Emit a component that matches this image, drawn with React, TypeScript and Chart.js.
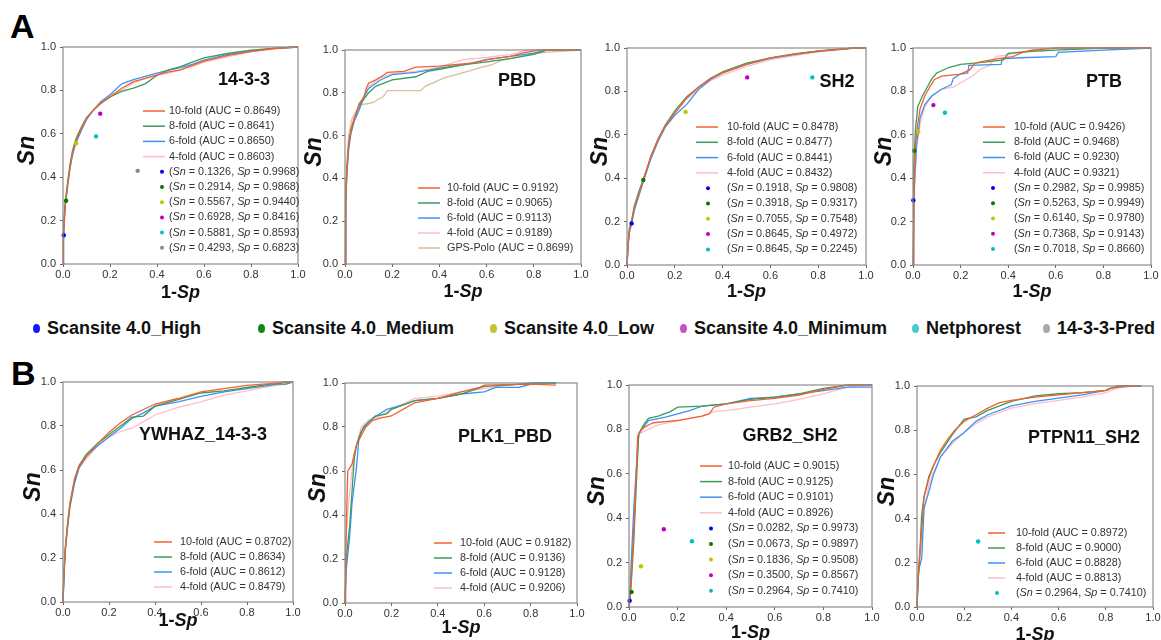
import React, { useEffect, useRef } from "react";
import { Chart, registerables } from "chart.js";
Chart.register(...registerables);

// ================= DATA =================
const FOLDS = ["10-fold", "8-fold", "6-fold", "4-fold"];
const TOOLS = ["Scansite 4.0_High", "Scansite 4.0_Medium", "Scansite 4.0_Low", "Scansite 4.0_Minimum", "Netphorest", "14-3-3-Pred"];
const PANEL_NAMES = ["14-3-3", "PBD", "SH2", "PTB", "YWHAZ_14-3-3", "PLK1_PBD", "GRB2_SH2", "PTPN11_SH2"];

// ---- A: 14-3-3 ----
const A1_AUC = [0.8649, 0.8641, 0.865, 0.8603];
const A1_10 = [[0,0],[0.002,0.12],[0.005,0.2],[0.01,0.28],[0.02,0.37],[0.03,0.45],[0.04,0.51],[0.05,0.55],[0.06,0.58],[0.08,0.63],[0.1,0.67],[0.13,0.71],[0.16,0.74],[0.2,0.77],[0.25,0.81],[0.3,0.84],[0.35,0.855],[0.4,0.872],[0.45,0.885],[0.5,0.895],[0.55,0.915],[0.6,0.935],[0.7,0.96],[0.8,0.98],[0.9,0.993],[1,1]];
const A1_8 = [[0,0],[0.002,0.14],[0.005,0.22],[0.01,0.29],[0.02,0.38],[0.03,0.46],[0.04,0.52],[0.05,0.56],[0.06,0.59],[0.08,0.635],[0.1,0.675],[0.13,0.71],[0.16,0.74],[0.2,0.77],[0.25,0.795],[0.3,0.81],[0.35,0.83],[0.4,0.87],[0.45,0.895],[0.5,0.91],[0.55,0.93],[0.6,0.95],[0.7,0.97],[0.8,0.985],[0.9,0.995],[1,1]];
const A1_6 = [[0,0],[0.002,0.1],[0.005,0.18],[0.01,0.27],[0.02,0.36],[0.03,0.44],[0.04,0.5],[0.05,0.54],[0.06,0.57],[0.08,0.62],[0.1,0.665],[0.13,0.71],[0.16,0.745],[0.2,0.78],[0.25,0.83],[0.3,0.85],[0.35,0.865],[0.4,0.88],[0.45,0.893],[0.5,0.905],[0.55,0.92],[0.6,0.94],[0.7,0.965],[0.8,0.98],[0.9,0.994],[1,1]];
const A1_4 = [[0,0],[0.001,0.17],[0.005,0.21],[0.01,0.28],[0.02,0.37],[0.03,0.45],[0.04,0.5],[0.05,0.55],[0.06,0.58],[0.08,0.63],[0.1,0.67],[0.13,0.71],[0.16,0.75],[0.2,0.78],[0.25,0.8],[0.3,0.835],[0.35,0.855],[0.4,0.868],[0.45,0.88],[0.5,0.895],[0.55,0.91],[0.6,0.93],[0.7,0.955],[0.8,0.978],[0.9,0.992],[1,1]];
const A1_SN = [0.1326, 0.2914, 0.5567, 0.6928, 0.5881, 0.4293];
const A1_SP = [0.9968, 0.9868, 0.944, 0.8416, 0.8593, 0.6823];
const A1_TOOL = [0, 1, 2, 3, 4, 5];

// ---- A: PBD ----
const A2_AUC = [0.9192, 0.9065, 0.9113, 0.9189];
const A2_10 = [[0,0],[0.003,0.3],[0.008,0.45],[0.015,0.56],[0.025,0.63],[0.04,0.68],[0.06,0.75],[0.08,0.78],[0.09,0.82],[0.1,0.845],[0.13,0.86],[0.16,0.88],[0.18,0.895],[0.25,0.9],[0.3,0.92],[0.4,0.925],[0.45,0.93],[0.55,0.94],[0.6,0.955],[0.7,0.97],[0.75,0.985],[0.8,0.995],[0.82,1],[1,1]];
const A2_8 = [[0,0],[0.003,0.28],[0.008,0.44],[0.015,0.55],[0.025,0.62],[0.04,0.68],[0.06,0.74],[0.08,0.77],[0.1,0.8],[0.13,0.83],[0.2,0.86],[0.3,0.875],[0.35,0.9],[0.4,0.91],[0.5,0.93],[0.6,0.945],[0.7,0.96],[0.8,0.98],[0.86,1],[1,1]];
const A2_6 = [[0,0],[0.003,0.3],[0.008,0.42],[0.015,0.53],[0.025,0.61],[0.04,0.67],[0.06,0.72],[0.08,0.78],[0.1,0.82],[0.15,0.86],[0.2,0.885],[0.3,0.895],[0.4,0.915],[0.5,0.93],[0.6,0.955],[0.7,0.97],[0.8,0.985],[0.85,1],[1,1]];
const A2_4 = [[0,0],[0.003,0.32],[0.008,0.46],[0.015,0.57],[0.025,0.63],[0.04,0.69],[0.06,0.74],[0.1,0.83],[0.15,0.87],[0.2,0.89],[0.3,0.9],[0.4,0.92],[0.5,0.955],[0.6,0.965],[0.7,0.98],[0.78,1],[1,1]];
const A2_GPS = [[0,0],[0.005,0.4],[0.015,0.6],[0.03,0.68],[0.05,0.72],[0.07,0.745],[0.1,0.75],[0.12,0.755],[0.14,0.77],[0.16,0.78],[0.18,0.81],[0.32,0.81],[0.34,0.83],[0.38,0.85],[0.42,0.87],[0.47,0.885],[0.52,0.9],[0.58,0.92],[0.62,0.93],[0.66,0.95],[0.72,0.965],[0.78,0.98],[0.86,0.99],[1,1]];
const A2_GPS_AUC = 0.8699;

// ---- A: SH2 ----
const A3_AUC = [0.8478, 0.8477, 0.8441, 0.8432];
const A3_10 = [[0,0],[0.005,0.1],[0.01,0.16],[0.02,0.2],[0.03,0.26],[0.05,0.33],[0.07,0.4],[0.1,0.5],[0.13,0.58],[0.16,0.64],[0.2,0.7],[0.25,0.77],[0.3,0.82],[0.35,0.86],[0.4,0.885],[0.5,0.925],[0.6,0.955],[0.7,0.972],[0.8,0.985],[0.9,0.995],[0.95,1],[1,1]];
const A3_8 = [[0,0],[0.005,0.11],[0.01,0.17],[0.02,0.21],[0.03,0.27],[0.05,0.34],[0.07,0.4],[0.1,0.5],[0.13,0.58],[0.16,0.645],[0.2,0.71],[0.25,0.775],[0.3,0.82],[0.35,0.86],[0.4,0.89],[0.5,0.93],[0.6,0.955],[0.7,0.973],[0.8,0.987],[0.9,0.996],[0.95,1],[1,1]];
const A3_6 = [[0,0],[0.005,0.09],[0.01,0.15],[0.02,0.19],[0.03,0.25],[0.05,0.32],[0.07,0.39],[0.1,0.49],[0.13,0.57],[0.16,0.635],[0.2,0.69],[0.25,0.74],[0.3,0.81],[0.35,0.855],[0.4,0.885],[0.5,0.925],[0.6,0.952],[0.7,0.97],[0.8,0.985],[0.9,0.995],[0.95,1],[1,1]];
const A3_4 = [[0,0],[0.005,0.1],[0.01,0.15],[0.02,0.2],[0.03,0.25],[0.05,0.33],[0.07,0.39],[0.1,0.5],[0.13,0.575],[0.16,0.64],[0.2,0.7],[0.25,0.765],[0.3,0.81],[0.35,0.85],[0.4,0.875],[0.5,0.915],[0.6,0.945],[0.7,0.965],[0.8,0.982],[0.9,0.993],[0.95,1],[1,1]];
const A3_SN = [0.1918, 0.3918, 0.7055, 0.8645, 0.8645];
const A3_SP = [0.9808, 0.9317, 0.7548, 0.4972, 0.2245];
const A3_TOOL = [0, 1, 2, 3, 4];

// ---- A: PTB ----
const A4_AUC = [0.9426, 0.9468, 0.923, 0.9321];
const A4_10 = [[0,0],[0.003,0.3],[0.01,0.55],[0.02,0.65],[0.03,0.72],[0.05,0.78],[0.07,0.82],[0.09,0.855],[0.12,0.87],[0.2,0.88],[0.24,0.9],[0.26,0.93],[0.3,0.94],[0.35,0.95],[0.42,0.96],[0.46,0.98],[0.5,0.99],[0.6,1],[1,1]];
const A4_8 = [[0,0],[0.003,0.45],[0.01,0.62],[0.02,0.73],[0.04,0.78],[0.06,0.82],[0.08,0.86],[0.1,0.885],[0.15,0.91],[0.2,0.925],[0.26,0.93],[0.3,0.935],[0.38,0.945],[0.4,0.975],[0.5,0.985],[0.6,0.99],[0.8,1],[1,1]];
const A4_6 = [[0,0],[0.005,0.35],[0.015,0.55],[0.03,0.68],[0.05,0.74],[0.08,0.78],[0.12,0.81],[0.16,0.83],[0.17,0.86],[0.2,0.88],[0.23,0.885],[0.235,0.92],[0.37,0.925],[0.375,0.95],[0.45,0.955],[0.6,0.96],[0.61,0.98],[0.8,0.99],[1,1]];
const A4_4 = [[0,0],[0.005,0.3],[0.015,0.55],[0.03,0.65],[0.05,0.73],[0.08,0.78],[0.12,0.81],[0.17,0.82],[0.2,0.84],[0.25,0.87],[0.28,0.9],[0.32,0.92],[0.35,0.96],[0.4,0.97],[0.5,0.99],[0.6,1],[1,1]];
const A4_SN = [0.2982, 0.5263, 0.614, 0.7368, 0.7018];
const A4_SP = [0.9985, 0.9949, 0.978, 0.9143, 0.866];
const A4_TOOL = [0, 1, 2, 3, 4];

// ---- B: YWHAZ_14-3-3 ----
const B1_AUC = [0.8702, 0.8634, 0.8612, 0.8479];
const B1_10 = [[0,0],[0.005,0.15],[0.01,0.25],[0.02,0.36],[0.03,0.45],[0.05,0.56],[0.07,0.62],[0.1,0.66],[0.15,0.72],[0.2,0.77],[0.25,0.815],[0.3,0.85],[0.35,0.875],[0.4,0.9],[0.5,0.925],[0.6,0.955],[0.7,0.97],[0.8,0.985],[0.9,0.993],[0.97,1],[1,1]];
const B1_8 = [[0,0],[0.005,0.14],[0.01,0.24],[0.02,0.35],[0.03,0.44],[0.05,0.55],[0.07,0.62],[0.1,0.67],[0.15,0.72],[0.2,0.76],[0.25,0.8],[0.3,0.84],[0.35,0.845],[0.4,0.89],[0.5,0.92],[0.6,0.95],[0.7,0.96],[0.8,0.975],[0.9,0.99],[0.97,0.99],[1,1]];
const B1_6 = [[0,0],[0.005,0.13],[0.01,0.23],[0.02,0.34],[0.03,0.43],[0.05,0.54],[0.07,0.61],[0.1,0.66],[0.15,0.71],[0.2,0.75],[0.25,0.79],[0.3,0.835],[0.35,0.86],[0.4,0.89],[0.5,0.91],[0.6,0.935],[0.7,0.955],[0.8,0.97],[0.9,0.985],[0.97,1],[1,1]];
const B1_4 = [[0,0],[0.005,0.15],[0.01,0.24],[0.02,0.35],[0.03,0.44],[0.05,0.55],[0.07,0.61],[0.1,0.65],[0.15,0.71],[0.2,0.75],[0.25,0.775],[0.3,0.79],[0.35,0.82],[0.4,0.85],[0.5,0.885],[0.6,0.91],[0.7,0.94],[0.8,0.96],[0.9,0.98],[0.97,0.99],[1,1]];

// ---- B: PLK1_PBD ----
const B2_AUC = [0.9182, 0.9136, 0.9128, 0.9206];
const B2_10 = [[0,0],[0.003,0.2],[0.008,0.45],[0.012,0.6],[0.03,0.63],[0.04,0.68],[0.05,0.72],[0.07,0.76],[0.09,0.8],[0.12,0.83],[0.15,0.84],[0.2,0.85],[0.25,0.88],[0.3,0.91],[0.4,0.93],[0.5,0.96],[0.58,0.98],[0.6,0.99],[0.8,0.995],[0.91,0.99]];
const B2_8 = [[0,0],[0.005,0.2],[0.02,0.35],[0.03,0.5],[0.04,0.66],[0.05,0.72],[0.07,0.78],[0.1,0.82],[0.13,0.85],[0.18,0.86],[0.2,0.88],[0.3,0.92],[0.4,0.93],[0.5,0.95],[0.6,0.985],[0.7,0.99],[0.82,1],[0.91,1]];
const B2_6 = [[0,0],[0.005,0.15],[0.02,0.3],[0.03,0.45],[0.05,0.62],[0.06,0.75],[0.08,0.8],[0.12,0.84],[0.18,0.88],[0.25,0.9],[0.3,0.92],[0.4,0.93],[0.5,0.95],[0.6,0.96],[0.65,0.98],[0.75,0.98],[0.82,1],[0.91,1]];
const B2_4 = [[0,0],[0.005,0.3],[0.015,0.45],[0.03,0.6],[0.05,0.72],[0.07,0.8],[0.1,0.83],[0.15,0.85],[0.2,0.88],[0.3,0.93],[0.4,0.94],[0.5,0.96],[0.6,0.975],[0.7,0.99],[0.8,1],[0.91,1]];

// ---- B: GRB2_SH2 ----
const B3_AUC = [0.9015, 0.9125, 0.9101, 0.8926];
const B3_10 = [[0,0],[0.005,0.05],[0.01,0.15],[0.02,0.35],[0.03,0.6],[0.036,0.77],[0.05,0.8],[0.08,0.82],[0.1,0.83],[0.15,0.835],[0.2,0.84],[0.25,0.85],[0.3,0.86],[0.33,0.87],[0.35,0.9],[0.4,0.915],[0.5,0.93],[0.6,0.94],[0.7,0.955],[0.8,0.98],[0.9,1],[1,1]];
const B3_8 = [[0,0],[0.005,0.05],[0.01,0.12],[0.02,0.3],[0.03,0.55],[0.04,0.78],[0.06,0.82],[0.08,0.85],[0.12,0.86],[0.17,0.88],[0.2,0.9],[0.3,0.905],[0.4,0.915],[0.5,0.935],[0.6,0.945],[0.7,0.96],[0.8,0.985],[0.9,1],[1,1]];
const B3_6 = [[0,0],[0.005,0.1],[0.01,0.22],[0.02,0.45],[0.03,0.62],[0.04,0.78],[0.06,0.81],[0.08,0.84],[0.15,0.855],[0.2,0.87],[0.25,0.885],[0.3,0.905],[0.4,0.915],[0.5,0.94],[0.6,0.945],[0.7,0.96],[0.8,0.975],[0.9,0.99],[1,0.99]];
const B3_4 = [[0,0],[0.005,0.05],[0.01,0.15],[0.02,0.38],[0.03,0.6],[0.035,0.77],[0.05,0.785],[0.08,0.8],[0.12,0.82],[0.2,0.84],[0.3,0.86],[0.35,0.88],[0.4,0.885],[0.5,0.9],[0.6,0.915],[0.7,0.935],[0.8,0.96],[0.9,0.99],[1,1]];
const B3_SN = [0.0282, 0.0673, 0.1836, 0.35, 0.2964];
const B3_SP = [0.9973, 0.9897, 0.9508, 0.8567, 0.741];
const B3_TOOL = [0, 1, 2, 3, 4];

// ---- B: PTPN11_SH2 ----
const B4_AUC = [0.8972, 0.9, 0.8828, 0.8813];
const B4_10 = [[0,0],[0.005,0.15],[0.01,0.22],[0.02,0.35],[0.03,0.5],[0.05,0.58],[0.07,0.64],[0.1,0.71],[0.13,0.76],[0.16,0.8],[0.2,0.84],[0.25,0.87],[0.3,0.9],[0.35,0.925],[0.4,0.935],[0.5,0.95],[0.6,0.96],[0.7,0.97],[0.75,0.975],[0.8,0.98],[0.82,0.99],[0.9,1],[0.95,1]];
const B4_8 = [[0,0],[0.005,0.12],[0.01,0.2],[0.02,0.42],[0.03,0.5],[0.05,0.59],[0.07,0.64],[0.1,0.7],[0.15,0.78],[0.2,0.85],[0.25,0.86],[0.3,0.89],[0.4,0.93],[0.5,0.955],[0.6,0.965],[0.7,0.97],[0.8,0.98],[0.85,1],[0.95,1]];
const B4_6 = [[0,0],[0.005,0.14],[0.01,0.18],[0.02,0.22],[0.03,0.45],[0.05,0.52],[0.07,0.6],[0.1,0.68],[0.15,0.75],[0.2,0.79],[0.25,0.84],[0.3,0.87],[0.4,0.91],[0.5,0.93],[0.6,0.945],[0.7,0.96],[0.8,0.98],[0.85,1],[0.95,1]];
const B4_4 = [[0,0],[0.005,0.13],[0.01,0.2],[0.02,0.3],[0.03,0.44],[0.05,0.55],[0.07,0.61],[0.1,0.68],[0.15,0.74],[0.2,0.79],[0.25,0.83],[0.3,0.86],[0.4,0.9],[0.5,0.92],[0.6,0.935],[0.7,0.95],[0.8,0.97],[0.85,0.99],[0.92,1],[0.95,1]];
const B4_SN = [0.2964];
const B4_SP = [0.741];
const B4_TOOL = [4];

const AXIS_TICKS = [0, 0.2, 0.4, 0.6, 0.8, 1.0];

// ================= STYLE =================
const FONT = '"Liberation Sans", Arial, Helvetica, sans-serif';
const FOLD_COLORS = ["#f2612d", "#3c9a5c", "#3b93f4", "#ffbdc8"];
const GPS_COLOR = "#d7c09c";
const POINT_COLORS = ["#0000f0", "#007a00", "#c4c400", "#c000c0", "#00c0c0", "#8a8a8a"];
const LEGEND_DOT_COLORS = ["#1414ff", "#128a12", "#c2c22c", "#c355c3", "#4ccaca", "#a8a8a8"];

interface Layout {
  plot: [number, number, number, number]; // page px: left, top, right, bottom
  title: [number, number];
  line: [number, number];
  marker: number;
  textX: number;
  row0: number;
  step: number;
  snX: number;
  xTitleBase: number;
}

interface Spec {
  name: string;
  curves: number[][][];
  aucs: number[];
  extra?: { label: string; data: number[][]; auc: number };
  sn: number[];
  sp: number[];
  tools: number[];
  L: Layout;
}

const SPECS: Spec[] = [
  { name: PANEL_NAMES[0], curves: [A1_10, A1_8, A1_6, A1_4], aucs: A1_AUC, sn: A1_SN, sp: A1_SP, tools: A1_TOOL,
    L: { plot: [63, 47, 298, 264], title: [244, 80], line: [143, 165], marker: 162, textX: 169, row0: 111, step: 15.2, snX: 28, xTitleBase: 298 } },
  { name: PANEL_NAMES[1], curves: [A2_10, A2_8, A2_6, A2_4], aucs: A2_AUC, extra: { label: "GPS-Polo", data: A2_GPS, auc: A2_GPS_AUC }, sn: [], sp: [], tools: [],
    L: { plot: [345, 50, 581, 264], title: [517, 81], line: [418, 440], marker: 430, textX: 447, row0: 188, step: 15, snX: 315, xTitleBase: 297 } },
  { name: PANEL_NAMES[2], curves: [A3_10, A3_8, A3_6, A3_4], aucs: A3_AUC, sn: A3_SN, sp: A3_SP, tools: A3_TOOL,
    L: { plot: [627, 48, 866, 265], title: [837, 82], line: [696, 718], marker: 708, textX: 727, row0: 127, step: 15.3, snX: 601, xTitleBase: 297 } },
  { name: PANEL_NAMES[3], curves: [A4_10, A4_8, A4_6, A4_4], aucs: A4_AUC, sn: A4_SN, sp: A4_SP, tools: A4_TOOL,
    L: { plot: [913, 48, 1151, 265], title: [1104, 82], line: [983, 1005], marker: 993, textX: 1014, row0: 127, step: 15.25, snX: 885, xTitleBase: 297 } },
  { name: PANEL_NAMES[4], curves: [B1_10, B1_8, B1_6, B1_4], aucs: B1_AUC, sn: [], sp: [], tools: [],
    L: { plot: [63, 382, 293, 602], title: [203, 435], line: [154, 172], marker: 163, textX: 180, row0: 542, step: 15, snX: 34, xTitleBase: 626 } },
  { name: PANEL_NAMES[5], curves: [B2_10, B2_8, B2_6, B2_4], aucs: B2_AUC, sn: [], sp: [], tools: [],
    L: { plot: [345, 383, 577, 603], title: [505, 437], line: [434, 452], marker: 443, textX: 460, row0: 543, step: 15, snX: 319, xTitleBase: 633 } },
  { name: PANEL_NAMES[6], curves: [B3_10, B3_8, B3_6, B3_4], aucs: B3_AUC, sn: B3_SN, sp: B3_SP, tools: B3_TOOL,
    L: { plot: [629, 385, 872, 607], title: [790, 436], line: [700, 722], marker: 711, textX: 728, row0: 466, step: 15.6, snX: 598, xTitleBase: 638 } },
  { name: PANEL_NAMES[7], curves: [B4_10, B4_8, B4_6, B4_4], aucs: B4_AUC, sn: B4_SN, sp: B4_SP, tools: B4_TOOL,
    L: { plot: [917, 386, 1153, 607], title: [1084, 438], line: [988, 1005], marker: 997, textX: 1016, row0: 533, step: 15, snX: 888, xTitleBase: 640 } },
];

const PAD_L = 50, PAD_T = 12, PAD_R = 16, PAD_B = 45;

type Seg = { t: string; it?: boolean };

function drawRich(ctx: CanvasRenderingContext2D, segs: Seg[], x: number, y: number, size: number, bold: boolean, align: "left" | "center") {
  const w = bold ? "bold " : "";
  let total = 0;
  for (const s of segs) {
    ctx.font = `${s.it ? "italic " : ""}${w}${size}px ${FONT}`;
    total += ctx.measureText(s.t).width;
  }
  let cx = align === "center" ? x - total / 2 : x;
  ctx.textAlign = "left";
  for (const s of segs) {
    ctx.font = `${s.it ? "italic " : ""}${w}${size}px ${FONT}`;
    ctx.fillText(s.t, cx, y);
    cx += ctx.measureText(s.t).width;
  }
}

function Panel({ spec }: { spec: Spec }) {
  const ref = useRef<HTMLCanvasElement>(null);
  const L = spec.L;
  const boxL = L.plot[0] - PAD_L;
  const boxT = L.plot[1] - PAD_T;
  const W = L.plot[2] - L.plot[0] + PAD_L + PAD_R;
  const H = L.plot[3] - L.plot[1] + PAD_T + PAD_B;

  useEffect(() => {
    if (!ref.current) return;
    const toXY = (d: number[][]) => d.map((p) => ({ x: p[0], y: p[1] }));
    const datasets: any[] = [];
    spec.tools.forEach((t, i) => {
      datasets.push({
        data: [{ x: 1 - spec.sp[i], y: spec.sn[i] }],
        showLine: false,
        pointRadius: 2.2,
        pointBackgroundColor: POINT_COLORS[t],
        pointBorderWidth: 0,
        clip: 6,
      });
    });
    spec.curves.forEach((c, i) => {
      datasets.push({
        data: toXY(c),
        showLine: true,
        borderColor: FOLD_COLORS[i],
        borderWidth: 1.3,
        pointRadius: 0,
        tension: 0,
        fill: false,
        clip: 3,
      });
    });
    if (spec.extra) {
      datasets.push({
        data: toXY(spec.extra.data),
        showLine: true,
        borderColor: GPS_COLOR,
        borderWidth: 1.3,
        pointRadius: 0,
        tension: 0,
        fill: false,
        clip: 3,
      });
    }

    const deco = {
      id: "deco",
      afterDraw(chart: any) {
        const ctx: CanvasRenderingContext2D = chart.ctx;
        const a = chart.chartArea;
        ctx.save();
        // frame
        ctx.strokeStyle = "#8c8c8c";
        ctx.lineWidth = 1.2;
        ctx.strokeRect(a.left, a.top, a.right - a.left, a.bottom - a.top);
        // title
        ctx.fillStyle = "#111";
        ctx.textBaseline = "middle";
        ctx.textAlign = "center";
        ctx.font = `bold 18px ${FONT}`;
        ctx.fillText(spec.name, L.title[0] - boxL, L.title[1] - boxT);
        // x title
        ctx.textBaseline = "alphabetic";
        drawRich(ctx, [{ t: "1-" }, { t: "Sp", it: true }], (a.left + a.right) / 2, L.xTitleBase - boxT, 18, true, "center");
        // y title
        ctx.save();
        ctx.translate(L.snX - boxL, (a.top + a.bottom) / 2 - 5);
        ctx.rotate(-Math.PI / 2);
        ctx.textAlign = "center";
        ctx.textBaseline = "middle";
        ctx.font = `italic bold 23px ${FONT}`;
        ctx.fillText("Sn", 0, 0);
        ctx.restore();
        // legend
        ctx.textBaseline = "middle";
        let row = 0;
        const rowY = () => L.row0 + row * L.step - boxT;
        const lineRow = (color: string, text: string) => {
          const y = rowY();
          ctx.strokeStyle = color;
          ctx.lineWidth = 1.5;
          ctx.beginPath();
          ctx.moveTo(L.line[0] - boxL, y);
          ctx.lineTo(L.line[1] - boxL, y);
          ctx.stroke();
          ctx.fillStyle = "#333";
          drawRich(ctx, [{ t: text }], L.textX - boxL, y, 10.8, false, "left");
          row++;
        };
        spec.curves.forEach((_, i) => lineRow(FOLD_COLORS[i], `${FOLDS[i]} (AUC = ${spec.aucs[i].toFixed(4)})`));
        if (spec.extra) lineRow(GPS_COLOR, `${spec.extra.label} (AUC = ${spec.extra.auc.toFixed(4)})`);
        spec.tools.forEach((t, i) => {
          const y = rowY();
          ctx.fillStyle = POINT_COLORS[t];
          ctx.beginPath();
          ctx.arc(L.marker - boxL, y, 2, 0, Math.PI * 2);
          ctx.fill();
          ctx.fillStyle = "#333";
          drawRich(
            ctx,
            [
              { t: "(" },
              { t: "Sn", it: true },
              { t: ` = ${spec.sn[i].toFixed(4)}, ` },
              { t: "Sp", it: true },
              { t: ` = ${spec.sp[i].toFixed(4)})` },
            ],
            L.textX - boxL,
            y,
            10.8,
            false,
            "left"
          );
          row++;
        });
        ctx.restore();
      },
    };

    const axis = (isX: boolean) => ({
      type: "linear",
      min: 0,
      max: 1,
      afterFit: (s: any) => {
        if (isX) s.height = PAD_B - 5;
        else s.width = PAD_L;
      },
      afterBuildTicks: (s: any) => {
        s.ticks = AXIS_TICKS.map((v) => ({ value: v }));
      },
      ticks: {
        callback: (v: any) => Number(v).toFixed(1),
        font: { size: 11, family: FONT },
        color: "#333",
        padding: isX ? 1 : 4,
        maxRotation: 0,
        autoSkip: false,
      },
      grid: { drawOnChartArea: false, drawTicks: true, tickLength: 3, color: "#666" },
      border: { display: false },
    });

    const chart = new Chart(ref.current, {
      type: "scatter",
      data: { datasets },
      options: {
        animation: false,
        responsive: true,
        maintainAspectRatio: false,
        events: [],
        layout: { padding: { left: 0, top: PAD_T, right: PAD_R, bottom: 5 } },
        plugins: { legend: { display: false }, tooltip: { enabled: false } },
        scales: { x: axis(true) as any, y: axis(false) as any },
      },
      plugins: [deco],
    });
    return () => chart.destroy();
  }, [spec]);

  return (
    <div style={{ position: "absolute", left: boxL, top: boxT, width: W, height: H }}>
      <canvas ref={ref} />
    </div>
  );
}

const LEGEND_X = [33, 258, 490, 680, 912, 1043];

export default function App() {
  return (
    <div style={{ position: "fixed", left: 0, top: 0, width: 1161, height: 640, overflow: "hidden", background: "#fff", fontFamily: FONT }}>
      <div style={{ position: "absolute", left: 10, top: 9, fontSize: 34, lineHeight: "34px", fontWeight: "bold", color: "#000" }}>A</div>
      <div style={{ position: "absolute", left: 11, top: 356, fontSize: 34, lineHeight: "34px", fontWeight: "bold", color: "#000" }}>B</div>
      {TOOLS.map((t, i) => (
        <div key={t} style={{ position: "absolute", left: LEGEND_X[i], top: 319, height: 18, display: "flex", alignItems: "center", whiteSpace: "nowrap" }}>
          <span style={{ display: "inline-block", width: 7, height: 9, borderRadius: "50%", background: LEGEND_DOT_COLORS[i], marginRight: 7 }} />
          <span style={{ fontSize: 18, lineHeight: "18px", fontWeight: "bold", color: "#111" }}>{t}</span>
        </div>
      ))}
      {SPECS.map((s) => (
        <Panel key={s.name} spec={s} />
      ))}
    </div>
  );
}
